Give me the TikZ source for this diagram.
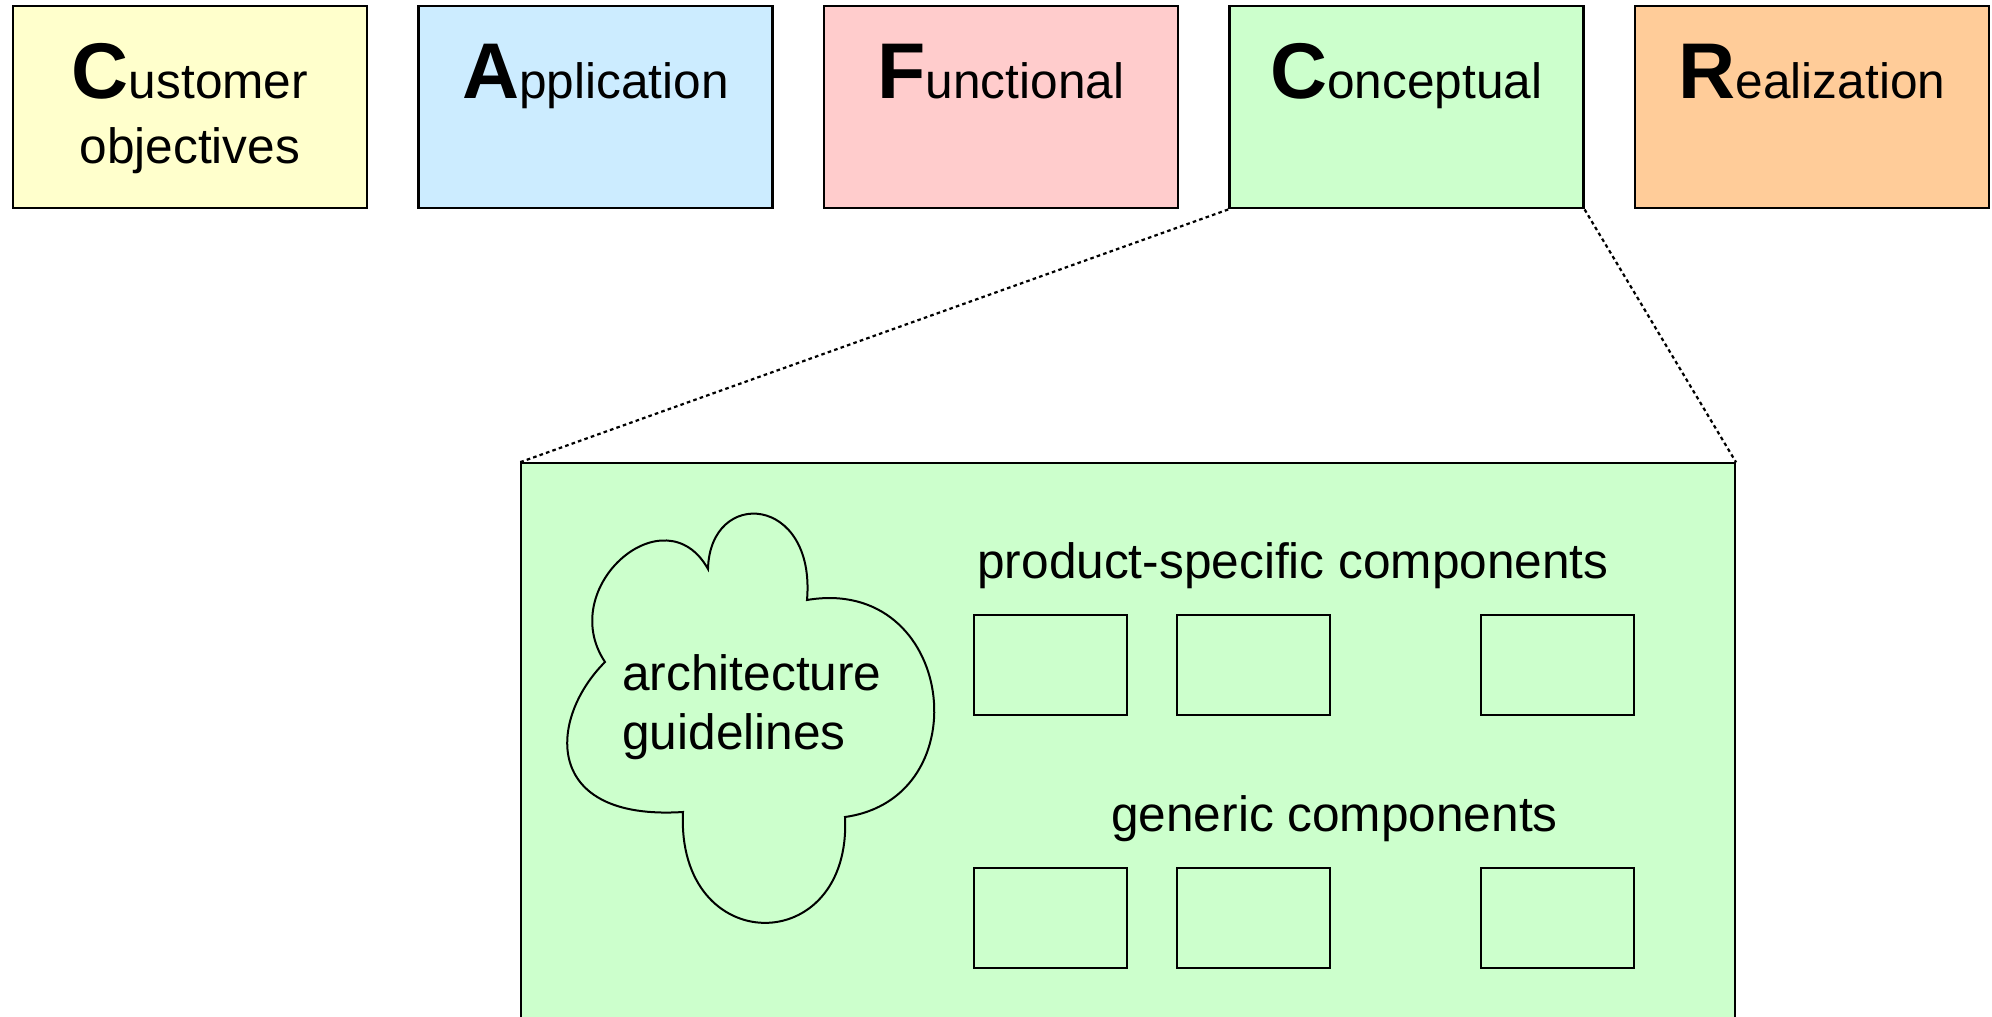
\documentclass[tikz,border=0pt]{standalone}
\usepackage{fontspec}
\setmainfont{Liberation Sans}
\usetikzlibrary{positioning}

\definecolor{custyellow}{HTML}{FFFFCC}
\definecolor{applblue}{HTML}{CCECFF}
\definecolor{funcpink}{HTML}{FFCCCC}
\definecolor{concgreen}{HTML}{CCFFCC}
\definecolor{realorange}{HTML}{FFCC99}

\newcommand{\bigletter}[1]{{\fontsize{39.5}{42}\selectfont\bfseries #1}}

\tikzset{%
  % Specifications for style of nodes:
         phase/.style = {rectangle, draw = black, line width=1.2pt, minimum width=177pt, minimum height=101pt},
     phasetext/.style = {anchor=base, yshift=-46.5pt, inner sep=0pt, align=center},
          comp/.style = {rectangle, draw = black, line width=1pt, minimum width=76.25pt, minimum height=50pt},
      zoomline/.style = {line width=1.1pt, dash pattern=on 1.8pt off 1.6pt},
}

\begin{document}
\begin{tikzpicture}[x=0.5pt, y=0.5pt, every node/.style={font=\fontsize{24.8}{32.5}\selectfont}]
    \clip (0,0) rectangle (1992,1017);

    % Draw phase boxes
    \node (cust)       [phase, fill=custyellow]                     at (189.9,909.7) {};
    \node (appl)       [phase, fill=applblue,   right=24.55pt of cust] {};
    \node (func)       [phase, fill=funcpink,   right=24.55pt of appl] {};
    \node (conc)       [phase, fill=concgreen,  right=24.55pt of func] {};
    \node (real)       [phase, fill=realorange, right=24.55pt of conc] {};

    \node (custtext)   [phasetext, yshift=-32.5pt] at (cust.north) {\bigletter{C}ustomer\\objectives};
    \node (appltext)   [phasetext] at (appl.north) {\bigletter{A}pplication};
    \node (functext)   [phasetext] at (func.north) {\bigletter{F}unctional};
    \node (conctext)   [phasetext] at (conc.north) {\bigletter{C}onceptual};
    \node (realtext)   [phasetext] at (real.north) {\bigletter{R}ealization};

    % Draw zoomed view
    \node (detail)     [rectangle, draw=black, line width=1pt, fill=concgreen, anchor=north west,
                        minimum width=607.25pt, minimum height=300pt] at (519.6,554.6) {};

    \draw[zoomline]    (conc.south west) -- (detail.north west);
    \draw[zoomline]    (conc.south east) -- (detail.north east);

    % Draw cloud
    \draw[line width=1pt] (605,355) .. controls (555,430) and (665,525) .. (708,448)
        .. controls (710,530) and (816,522) .. (807,417)
        .. controls (955,442) and (982,219) .. (845,200)
        .. controls (852,58) and (676,58) .. (683,205)
        .. controls (542,196) and (548,298) .. cycle;
    \node (guide)      [anchor=base west, inner sep=0pt, align=left, font=\fontsize{24.8}{29.7}\selectfont]
                        at (622,267) {architecture\\guidelines};

    % Draw components
    \node (prodlabel)  [anchor=base, inner sep=0pt] at (1293,438.5) {product-specific components};
    \node (ps1)        [comp]                      at (1050.6,352) {};
    \node (ps2)        [comp, right=24.1pt of ps1] {};
    \node (ps3)        [comp, right=74.85pt of ps2]  {};

    \node (genlabel)   [anchor=base, inner sep=0pt] at (1334.5,185) {generic components};
    \node (gen1)       [comp, below=75.4pt of ps1] {};
    \node (gen2)       [comp, right=24.1pt of gen1] {};
    \node (gen3)       [comp, right=74.85pt of gen2]  {};

\end{tikzpicture}
\end{document}
